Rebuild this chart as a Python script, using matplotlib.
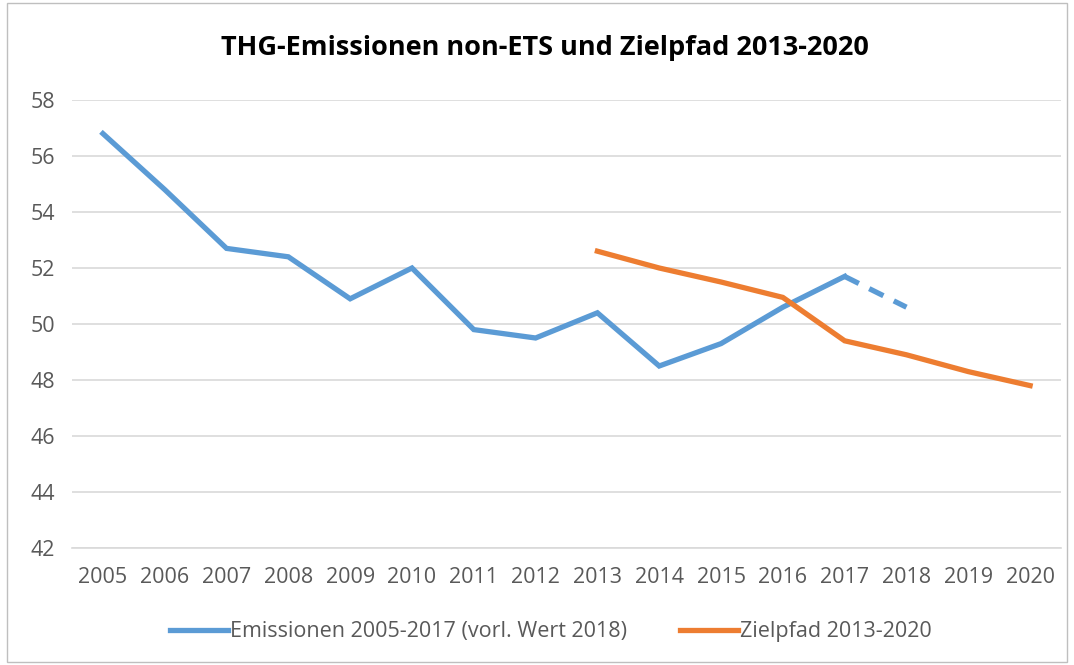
import matplotlib.pyplot as plt
from matplotlib.patches import Rectangle

plt.rcParams['font.family'] = ['Open Sans', 'DejaVu Sans']

# emissions (non-ETS), 2018 is preliminary
years = [2005, 2006, 2007, 2008, 2009, 2010, 2011, 2012, 2013, 2014, 2015, 2016, 2017]
emissions = [56.8, 54.8, 52.7, 52.4, 50.9, 52.0, 49.8, 49.5, 50.4, 48.5, 49.3, 50.6, 51.7]
prelim_years = [2017, 2018]
prelim_values = [51.7, 50.6]

# target path 2013-2020
target_years = [2013, 2014, 2015, 2016, 2017, 2018, 2019, 2020]
target_values = [52.6, 52.0, 51.5, 50.95, 49.4, 48.9, 48.3, 47.8]

blue = '#5B9BD5'
orange = '#ED7D31'
grey_txt = '#595959'
grid_col = '#D9D9D9'

fig = plt.figure(figsize=(10.74, 6.65), dpi=100)
ax = fig.add_axes([72 / 1074, 1 - 548 / 665, (1061 - 72) / 1074, 448 / 665])

l1, = ax.plot(years, emissions, color=blue, lw=3.8, solid_joinstyle='miter',
              label='Emissionen 2005-2017 (vorl. Wert 2018)')
ax.plot(prelim_years, prelim_values, color=blue, lw=3.8, dashes=(3, 2.2))
l2, = ax.plot(target_years, target_values, color=orange, lw=3.8, solid_joinstyle='miter',
              label='Zielpfad 2013-2020')

ax.set_xlim(2004.5, 2020.5)
ax.set_ylim(42, 58)
ax.set_yticks(range(42, 59, 2))
ax.set_xticks(range(2005, 2021))
ax.grid(axis='y', color=grid_col, lw=1.2)
ax.set_axisbelow(True)
for s in ['top', 'right', 'left']:
    ax.spines[s].set_visible(False)
ax.spines['bottom'].set_color(grid_col)
ax.spines['bottom'].set_linewidth(1.2)
ax.tick_params(length=0, labelsize=15.5, labelcolor=grey_txt)
ax.tick_params(axis='x', pad=14)
ax.tick_params(axis='y', pad=12)

fig.text(0.507, 0.928, 'THG-Emissionen non-ETS und Zielpfad 2013-2020',
         ha='center', va='center', fontsize=19.5, fontweight='bold', color='black')

fig.legend(handles=[l1, l2], loc='center', bbox_to_anchor=(0.513, 0.05), ncol=2,
           frameon=False, fontsize=15.5, labelcolor=grey_txt, handlelength=2.65,
           handletextpad=0.1, columnspacing=2.5)

# chart border
fig.patches.append(Rectangle((7 / 1074, 0.005), 1 - 14 / 1074, 0.99, transform=fig.transFigure,
                             fill=False, edgecolor='#BFBFBF', lw=1))

fig.savefig('out.png', dpi=100)
